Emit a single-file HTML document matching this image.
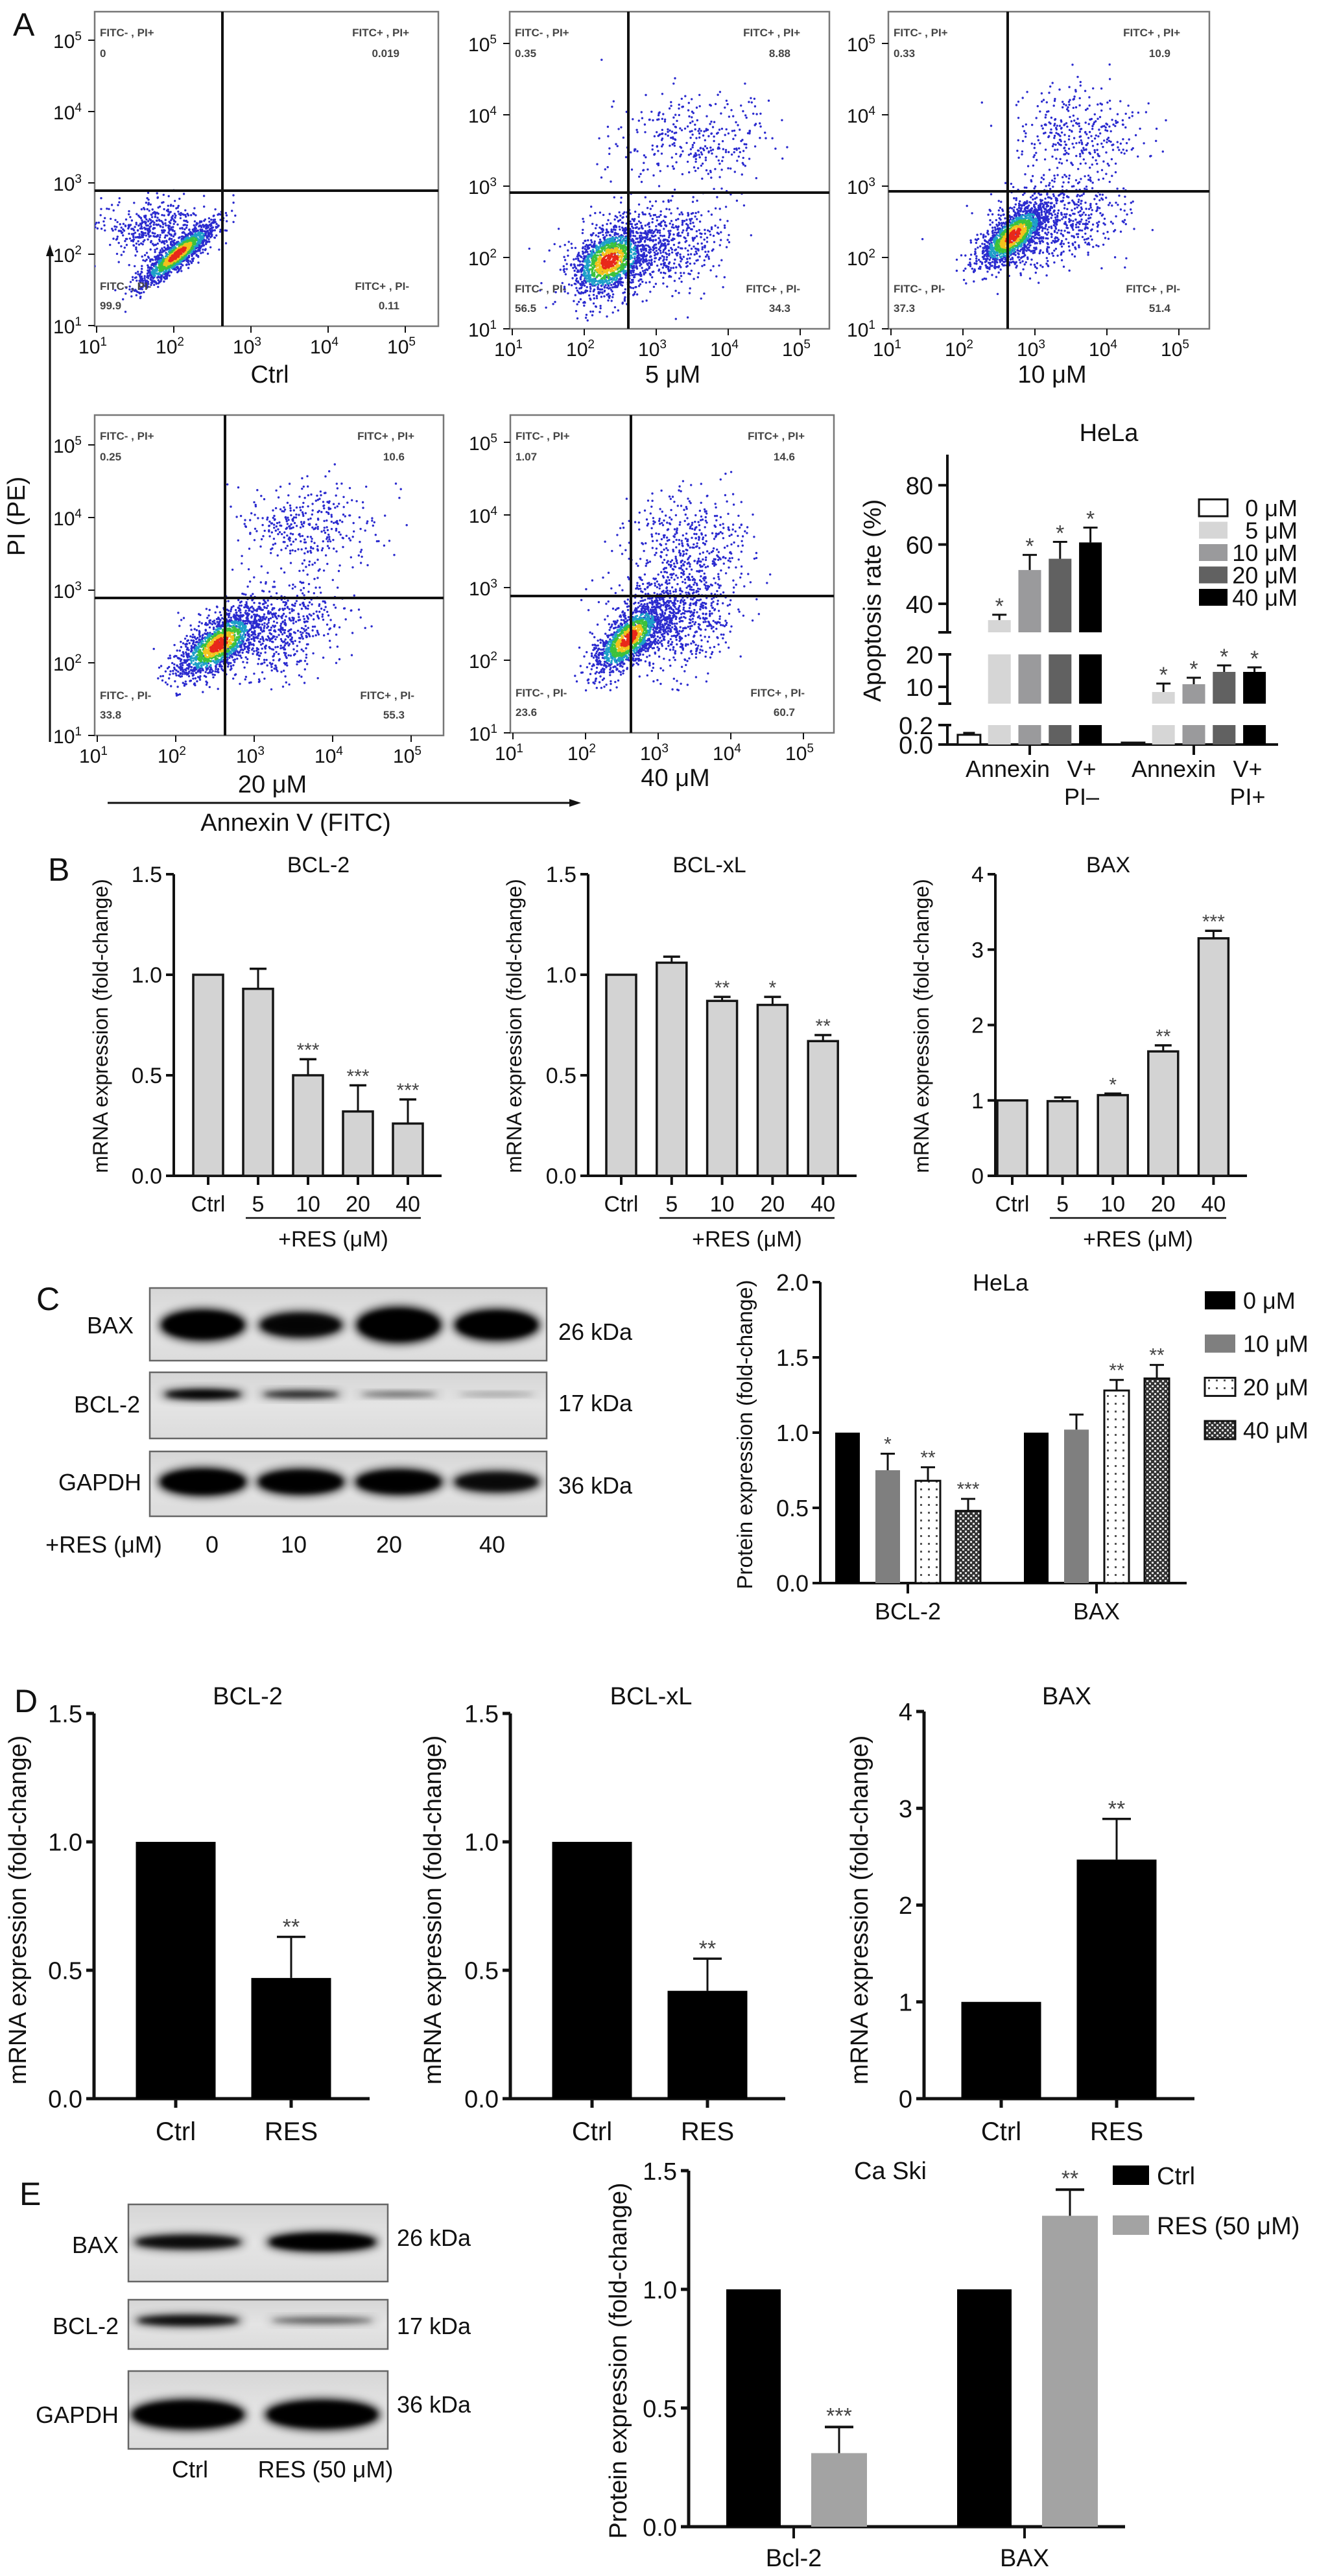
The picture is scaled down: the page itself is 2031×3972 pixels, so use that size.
<!DOCTYPE html>
<html><head><meta charset="utf-8"><title>Resveratrol apoptosis figure</title>
<style>
html,body{margin:0;padding:0;background:#fff;}
svg{display:block;font-family:"Liberation Sans",Arial,sans-serif;}
</style></head>
<body>
<svg id="fig" xmlns="http://www.w3.org/2000/svg" width="2031" height="3972" viewBox="0 0 2031 3972">
<defs>
  <pattern id="dotpat" width="12" height="12" patternUnits="userSpaceOnUse">
    <rect width="12" height="12" fill="#fff"/>
    <rect x="3" y="3" width="3" height="3" fill="#555"/>
  </pattern>
  <pattern id="checkpat" width="8" height="8" patternUnits="userSpaceOnUse">
    <rect width="8" height="8" fill="#333"/>
    <rect x="0" y="0" width="3" height="3" fill="#ddd"/>
    <rect x="4" y="4" width="3" height="3" fill="#ddd"/>
  </pattern>
  <filter id="blur8" x="-30%" y="-80%" width="160%" height="260%"><feGaussianBlur stdDeviation="7"/></filter>
  <filter id="blur4" x="-30%" y="-80%" width="160%" height="260%"><feGaussianBlur stdDeviation="4"/></filter>
  <linearGradient id="blotbg" x1="0" y1="0" x2="0" y2="1">
    <stop offset="0" stop-color="#d6d6d6"/><stop offset="0.5" stop-color="#e4e4e4"/><stop offset="1" stop-color="#dcdcdc"/>
  </linearGradient>
</defs>
</svg>
<script>
// ---------------- DATA ----------------
// Panel A flow cytometry quadrant percentages
const flowConditions = ['Ctrl', '5 μM', '10 μM', '20 μM', '40 μM'];
const flowQuadUL = ['0', '0.35', '0.33', '0.25', '1.07'];
const flowQuadUR = ['0.019', '8.88', '10.9', '10.6', '14.6'];
const flowQuadLL = ['99.9', '56.5', '37.3', '33.8', '23.6'];
const flowQuadLR = ['0.11', '34.3', '51.4', '55.3', '60.7'];
const flowTickExp = [1, 2, 3, 4, 5];
// Panel A HeLa apoptosis rate
const apoDoses = ['0 μM', '5 μM', '10 μM', '20 μM', '40 μM'];
const apoEarly = [0.1, 34.5, 51.4, 55.2, 60.7];
const apoEarlyErr = [0.02, 1.8, 5.1, 5.7, 5.0];
const apoLate = [0.02, 8.4, 10.8, 14.6, 14.6];
const apoLateErr = [0, 2.6, 2.0, 2.0, 1.4];
const apoTopTicks = [40, 60, 80];
const apoMidTicks = [10, 20];
const apoBotTicks = [0.0, 0.2];
const apoBotTickLabels = ['0.0', '0.2'];
// Panel B mRNA HeLa
const bCats = ['Ctrl', '5', '10', '20', '40'];
const bBcl2 = [1.0, 0.93, 0.50, 0.32, 0.26];
const bBcl2Err = [0, 0.10, 0.08, 0.13, 0.12];
const bBcl2Stars = ['', '', '***', '***', '***'];
const bBclxl = [1.0, 1.06, 0.87, 0.85, 0.67];
const bBclxlErr = [0, 0.03, 0.02, 0.04, 0.03];
const bBclxlStars = ['', '', '**', '*', '**'];
const bBax = [1.0, 0.99, 1.07, 1.65, 3.15];
const bBaxErr = [0, 0.05, 0.02, 0.08, 0.10];
const bBaxStars = ['', '', '*', '**', '***'];
const ticks15 = [0, 0.5, 1.0, 1.5];
const ticks15Labels = ['0.0', '0.5', '1.0', '1.5'];
const ticks4 = [0, 1, 2, 3, 4];
const ticks4Labels = ['0', '1', '2', '3', '4'];
// Panel C protein HeLa
const cGenes = ['BCL-2', 'BAX'];
const cDoses = ['0 μM', '10 μM', '20 μM', '40 μM'];
const cBcl2 = [1.0, 0.75, 0.68, 0.48];
const cBcl2Err = [0, 0.11, 0.09, 0.08];
const cBcl2Stars = ['', '*', '**', '***'];
const cBax = [1.0, 1.02, 1.28, 1.36];
const cBaxErr = [0, 0.10, 0.07, 0.09];
const cBaxStars = ['', '', '**', '**'];
const cTicks = [0, 0.5, 1.0, 1.5, 2.0];
const cTickLabels = ['0.0', '0.5', '1.0', '1.5', '2.0'];
const cLanes = ['0', '10', '20', '40'];
const cBaxBand = [1.0, 0.85, 1.15, 1.0];
const cBcl2Band = [0.95, 0.7, 0.45, 0.25];
const cGapdhBand = [1.0, 0.95, 0.95, 0.8];
// Panel D mRNA Ca Ski
const dCats = ['Ctrl', 'RES'];
const dBcl2 = [1.0, 0.47];
const dBcl2Err = [0, 0.16];
const dBclxl = [1.0, 0.42];
const dBclxlErr = [0, 0.125];
const dBax = [1.0, 2.47];
const dBaxErr = [0, 0.42];
// Panel E protein Ca Ski
const eGenes = ['Bcl-2', 'BAX'];
const eSeries = ['Ctrl', 'RES (50 μM)'];
const eCtrl = [1.0, 1.0];
const eRes = [0.31, 1.31];
const eResErr = [0.11, 0.11];
const eStars = ['***', '**'];
const eTicks = [0, 0.5, 1.0, 1.5];
const eTickLabels = ['0.0', '0.5', '1.0', '1.5'];
const eBaxBand = [0.8, 1.0];
const eBcl2Band = [0.8, 0.45];
const eGapdhBand = [1.0, 1.0];

// ---------------- HELPERS ----------------
const NS = 'http://www.w3.org/2000/svg';
const svg = document.getElementById('fig');
function mk(parent, tag, attrs, name) {
  const el = document.createElementNS(NS, tag);
  for (const k in attrs) el.setAttribute(k, attrs[k]);
  
  
  parent.appendChild(el);
  return el;
}
function grp(parent, name) { return mk(parent, 'g', {}, name); }
function txt(parent, x, y, s, size, name, extra) {
  const a = {x: x, y: y, 'font-size': size, fill: '#111'};
  if (extra) for (const k in extra) a[k] = extra[k];
  const t = mk(parent, 'text', a, name);
  t.textContent = s;
  return t;
}
function line(parent, x1, y1, x2, y2, w, name, color) {
  return mk(parent, 'line', {x1: x1, y1: y1, x2: x2, y2: y2, stroke: color || '#111', 'stroke-width': w}, name);
}
function rotLabel(parent, x, y, s, size, name) {
  return txt(parent, x, y, s, size, name, {'text-anchor': 'middle', transform: 'rotate(-90 ' + x + ' ' + y + ')'});
}
function panelLetter(x, y, s) {
  txt(svg, x, y, s, 50, 'panel-label-' + s.toLowerCase());
}

// ---------------- PANEL A: FLOW ----------------
function rng(seed) {
  return function () {
    seed |= 0; seed = seed + 0x6D2B79F5 | 0;
    let t = Math.imul(seed ^ seed >>> 15, 1 | seed);
    t = t + Math.imul(t ^ t >>> 7, 61 | t) ^ t;
    return ((t ^ t >>> 14) >>> 0) / 4294967296;
  };
}
function gauss(r) { const u = r() || 1e-9, v = r(); return Math.sqrt(-2 * Math.log(u)) * Math.cos(2 * Math.PI * v); }

function flowPlot(i, box, xt0, xdec, yt0, ydec, vx, hy, clusters, labelY) {
  const g = grp(svg, 'flow-plot-' + i);
  const X = v => xt0 + (v - 1) * xdec;
  const Y = v => yt0 - (v - 1) * ydec;
  mk(g, 'rect', {x: box[0], y: box[1], width: box[2] - box[0], height: box[3] - box[1], fill: '#fff', stroke: '#777', 'stroke-width': 2.5}, 'flow-frame');
  const cid = 'clipflow' + i;
  const cp = mk(svg.querySelector('defs'), 'clipPath', {id: cid}, 'flow-clip');
  mk(cp, 'rect', {x: box[0], y: box[1], width: box[2] - box[0], height: box[3] - box[1]}, 'flow-clip-rect');
  const dots = mk(g, 'g', {'clip-path': 'url(#' + cid + ')'}, 'flow-events');
  const r = rng(1000 + i * 77);
  const pts = [];
  clusters.forEach(c => {
    const ang = (c.ang || 0) * Math.PI / 180;
    for (let k = 0; k < c.n; k++) {
      const a = gauss(r) * c.sa, b = gauss(r) * c.sb;
      const lx = c.cx + a * Math.cos(ang) - b * Math.sin(ang);
      const ly = c.cy + a * Math.sin(ang) + b * Math.cos(ang);
      const d = Math.sqrt((a / c.sa) ** 2 + (b / c.sb) ** 2);
      pts.push({x: X(lx), y: Y(ly), d: c.dense ? d : 9});
    }
  });
  pts.sort((p, q) => q.d - p.d);
  pts.forEach(p => {
    let col = '#2b2bcf';
    if (p.d < 0.45) col = '#e8281a'; else if (p.d < 0.75) col = '#f2c21c'; else if (p.d < 1.05) col = '#3cc23c'; else if (p.d < 1.4) col = '#1ea0c8';
    mk(dots, 'circle', {cx: p.x.toFixed(1), cy: p.y.toFixed(1), r: 1.7, fill: col}, 'flow-event');
  });
  line(g, vx, box[1], vx, box[3], 4, 'quadrant-gate-vertical');
  line(g, box[0], hy, box[2], hy, 4, 'quadrant-gate-horizontal');
  // ticks
  flowTickExp.forEach(e => {
    const x = X(e), y = Y(e);
    line(g, x, box[3], x, box[3] + 10, 2, 'x-tick');
    const tx = txt(g, x - 6, box[3] + 42, '10', 30, 'x-tick-label', {'text-anchor': 'middle'});
    const sup = document.createElementNS(NS, 'tspan');
    
    
    sup.setAttribute('dy', '-12'); sup.setAttribute('font-size', '19'); sup.textContent = e;
    tx.appendChild(sup);
    line(g, box[0] - 10, y, box[0], y, 2, 'y-tick');
    const ty = txt(g, box[0] - 20, y + 12, '10', 30, 'y-tick-label', {'text-anchor': 'end'});
    const sup2 = document.createElementNS(NS, 'tspan');
    
    
    sup2.setAttribute('dy', '-12'); sup2.setAttribute('font-size', '19'); sup2.textContent = e;
    ty.appendChild(sup2);
  });
  const qs = 17, qc = '#444';
  txt(g, box[0] + 8, box[1] + 38, 'FITC- , PI+', qs, 'quadrant-ul-label', {fill: qc, 'font-weight': 'bold'});
  txt(g, box[0] + 8, box[1] + 70, flowQuadUL[i], qs, 'quadrant-ul-value', {fill: qc, 'font-weight': 'bold'});
  txt(g, box[2] - 45, box[1] + 38, 'FITC+ , PI+', qs, 'quadrant-ur-label', {fill: qc, 'font-weight': 'bold', 'text-anchor': 'end'});
  txt(g, box[2] - 60, box[1] + 70, flowQuadUR[i], qs, 'quadrant-ur-value', {fill: qc, 'font-weight': 'bold', 'text-anchor': 'end'});
  txt(g, box[0] + 8, box[3] - 56, 'FITC- , PI-', qs, 'quadrant-ll-label', {fill: qc, 'font-weight': 'bold'});
  txt(g, box[0] + 8, box[3] - 26, flowQuadLL[i], qs, 'quadrant-ll-value', {fill: qc, 'font-weight': 'bold'});
  txt(g, box[2] - 45, box[3] - 56, 'FITC+ , PI-', qs, 'quadrant-lr-label', {fill: qc, 'font-weight': 'bold', 'text-anchor': 'end'});
  txt(g, box[2] - 60, box[3] - 26, flowQuadLR[i], qs, 'quadrant-lr-value', {fill: qc, 'font-weight': 'bold', 'text-anchor': 'end'});
  txt(g, (box[0] + box[2]) / 2 + 5, labelY, flowConditions[i], 38, 'flow-condition-label', {'text-anchor': 'middle'});
}
panelLetter(20, 55, 'A');
flowPlot(0, [146, 18, 676, 503], 149, 119, 502, 110, 343, 294, [
  {cx: 2.05, cy: 2.0, sa: 0.32, sb: 0.08, ang: 42, n: 1300, dense: true},
  {cx: 1.75, cy: 2.35, sa: 0.32, sb: 0.22, ang: 0, n: 450}], 590);
flowPlot(1, [786, 18, 1279, 507], 790, 111, 507, 110, 969, 297, [
  {cx: 2.35, cy: 1.95, sa: 0.3, sb: 0.2, ang: 40, n: 1400, dense: true},
  {cx: 3.0, cy: 2.15, sa: 0.5, sb: 0.32, ang: 15, n: 700},
  {cx: 3.55, cy: 3.65, sa: 0.55, sb: 0.3, ang: 0, n: 330}], 590);
flowPlot(2, [1370, 18, 1865, 507], 1374, 111, 507, 110, 1554, 295, [
  {cx: 2.7, cy: 2.3, sa: 0.3, sb: 0.13, ang: 42, n: 1400, dense: true},
  {cx: 3.3, cy: 2.5, sa: 0.45, sb: 0.3, ang: 20, n: 600},
  {cx: 3.6, cy: 3.75, sa: 0.45, sb: 0.32, ang: 0, n: 330}], 590);
flowPlot(3, [146, 640, 684, 1134], 150, 121, 1134, 112, 347, 922, [
  {cx: 2.55, cy: 2.25, sa: 0.32, sb: 0.14, ang: 40, n: 1400, dense: true},
  {cx: 3.2, cy: 2.45, sa: 0.45, sb: 0.3, ang: 20, n: 700},
  {cx: 3.7, cy: 3.85, sa: 0.45, sb: 0.3, ang: 0, n: 350}], 1222);
flowPlot(4, [787, 640, 1286, 1130], 791, 112, 1130, 112, 973, 919, [
  {cx: 2.6, cy: 2.3, sa: 0.32, sb: 0.14, ang: 45, n: 1400, dense: true},
  {cx: 3.2, cy: 2.6, sa: 0.45, sb: 0.35, ang: 25, n: 800},
  {cx: 3.4, cy: 3.6, sa: 0.4, sb: 0.35, ang: 0, n: 400}], 1212);
// axis arrows
(function () {
  const g = grp(svg, 'flow-axis-arrows');
  line(g, 77, 1144, 77, 392, 3, 'pi-axis-arrow');
  mk(g, 'polygon', {points: '77,377 71,395 83,395', fill: '#111'}, 'pi-arrowhead');
  rotLabel(g, 38, 796, 'PI (PE)', 38, 'pi-axis-title');
  line(g, 166, 1238, 880, 1238, 3, 'annexin-axis-arrow');
  mk(g, 'polygon', {points: '896,1238 878,1232 878,1244', fill: '#111'}, 'annexin-arrowhead');
  txt(g, 456, 1281, 'Annexin V (FITC)', 38, 'annexin-axis-title', {'text-anchor': 'middle'});
})();

// HeLa apoptosis chart with broken axis
(function () {
  const g = grp(svg, 'apoptosis-chart');
  const ax = 1461, base = 1148;
  const yTop = v => 931 - (v - 40) * 4.57;
  const yMid = v => 1009 - (v - 20) * 5.0;
  const yBot = v => 1148 - v * 150;
  const segs = [[701, 975], [1009, 1085], [1118, 1148]];
  segs.forEach((s, k) => {
    line(g, ax, s[0], ax, s[1], 4, 'y-axis-segment');
    if (k > 0) line(g, ax - 14, s[0], ax + 6, s[0], 4, 'axis-break-mark');
    if (k < 2) line(g, ax - 14, s[1], ax + 6, s[1], 4, 'axis-break-mark');
  });
  apoTopTicks.forEach(v => { line(g, ax - 14, yTop(v), ax, yTop(v), 4, 'y-tick'); txt(g, ax - 22, yTop(v) + 14, String(v), 38, 'y-tick-label', {'text-anchor': 'end'}); });
  apoMidTicks.forEach(v => { line(g, ax - 14, yMid(v), ax, yMid(v), 4, 'y-tick'); txt(g, ax - 22, yMid(v) + 14, String(v), 38, 'y-tick-label', {'text-anchor': 'end'}); });
  apoBotTicks.forEach((v, k) => { line(g, ax - 14, yBot(v), ax, yBot(v), 4, 'y-tick'); txt(g, ax - 22, yBot(v) + 14, apoBotTickLabels[k], 38, 'y-tick-label', {'text-anchor': 'end'}); });
  line(g, ax, base, 1971, base, 4, 'x-axis');
  rotLabel(g, 1358, 926, 'Apoptosis rate (%)', 38, 'y-axis-title');
  txt(g, 1710, 680, 'HeLa', 38, 'chart-title', {'text-anchor': 'middle'});
  const fills = ['#fff', '#d6d6d6', '#9a9a9c', '#616161', '#000'];
  const groupTicks = [1588, 1841];
  [apoEarly, apoLate].forEach((vals, gi) => {
    const errs = gi === 0 ? apoEarlyErr : apoLateErr;
    line(g, groupTicks[gi], base, groupTicks[gi], base + 16, 4, 'x-tick');
    vals.forEach((v, i) => {
      const cx = groupTicks[gi] + (i - 2) * 46.8, w = 35;
      const st = i === 0 ? {stroke: '#111', 'stroke-width': 3} : {};
      const pieces = [];
      pieces.push([yBot(Math.min(v, 0.2)), base]);
      if (v > 5) pieces.push([yMid(Math.min(v, 20)), 1085]);
      if (v > 30.5) pieces.push([yTop(v), 975]);
      pieces.forEach(p => {
        const a = Object.assign({x: cx - w / 2, y: p[0], width: w, height: Math.max(p[1] - p[0], 1.5), fill: fills[i]}, st);
        mk(g, 'rect', a, 'bar-' + (gi === 0 ? 'early' : 'late') + '-' + i);
      });
      if (i > 0) {
        const top = v > 30.5 ? yTop(v) : yMid(v);
        const et = v > 30.5 ? yTop(v + errs[i]) : yMid(v + errs[i]);
        line(g, cx, top, cx, et, 3, 'error-bar');
        line(g, cx - 11, et, cx + 11, et, 3, 'error-cap');
        txt(g, cx, et - 2, '*', 34, 'significance-star', {'text-anchor': 'middle', fill: '#444'});
      } else if (gi === 0) {
        const et = yBot(v + errs[i]);
        line(g, cx, yBot(v), cx, et, 3, 'error-bar');
        line(g, cx - 9, et, cx + 9, et, 3, 'error-cap');
      }
    });
  });
  txt(g, 1554, 1198, 'Annexin', 36, 'x-label', {'text-anchor': 'middle'});
  txt(g, 1668, 1198, 'V+', 36, 'x-label', {'text-anchor': 'middle'});
  txt(g, 1668, 1241, 'PI–', 36, 'x-label', {'text-anchor': 'middle'});
  txt(g, 1810, 1198, 'Annexin', 36, 'x-label', {'text-anchor': 'middle'});
  txt(g, 1924, 1198, 'V+', 36, 'x-label', {'text-anchor': 'middle'});
  txt(g, 1924, 1241, 'PI+', 36, 'x-label', {'text-anchor': 'middle'});
  const lg = grp(g, 'legend');
  apoDoses.forEach((d, i) => {
    const cy = 783 + i * 34.5;
    mk(lg, 'rect', {x: 1849, y: cy - 13, width: 44, height: 26, fill: fills[i], stroke: i === 0 ? '#111' : 'none', 'stroke-width': 3}, 'legend-swatch');
    txt(lg, 2001, cy + 13, d, 36, 'legend-entry', {'text-anchor': 'end'});
  });
})();

// ---------------- BAR CHART HELPER ----------------
function barChart(o) {
  const g = grp(svg, o.name);
  const y = v => o.y0 - v * (o.y0 - o.yMaxPx) / o.vmax;
  line(g, o.ax, o.y0 + 2, o.ax, o.yMaxPx, o.lw, 'y-axis');
  o.ticks.forEach((t, k) => {
    line(g, o.ax - 12, y(t), o.ax, y(t), o.lw, 'y-tick');
    txt(g, o.ax - 18, y(t) + o.fs * 0.36, o.tickLabels[k], o.fs, 'y-tick-label', {'text-anchor': 'end'});
  });
  line(g, o.ax - 12, o.y0, o.right, o.y0, o.lw, 'x-axis');
  o.vals.forEach((v, i) => {
    const cx = o.cx(i);
    line(g, cx, o.y0, cx, o.y0 + 14, o.lw, 'x-tick');
    if (o.cats) txt(g, cx, o.catY, o.cats[i], o.cfs, 'x-tick-label', {'text-anchor': 'middle'});
    mk(g, 'rect', {x: cx - o.bw / 2, y: y(v), width: o.bw, height: o.y0 - y(v), fill: o.fill, stroke: o.stroke || 'none', 'stroke-width': 3.5}, 'bar-' + i);
    if (o.errs[i] > 0) {
      const et = y(v + o.errs[i]);
      line(g, cx, y(v), cx, et, 3, 'error-bar');
      line(g, cx - o.cap, et, cx + o.cap, et, 3.5, 'error-cap');
    }
    if (o.stars && o.stars[i]) txt(g, cx, y(v + o.errs[i]) - 4, o.stars[i], o.sfs || 30, 'significance-stars', {'text-anchor': 'middle', fill: '#444'});
  });
  txt(g, o.titleX, o.titleY, o.title, o.tfs, 'chart-title', {'text-anchor': 'middle'});
  rotLabel(g, o.ylx, o.yly, o.ylabel, o.yfs, 'y-axis-title');
  if (o.under) {
    line(g, o.under[0], o.under[2], o.under[1], o.under[2], 2.5, 'res-group-line');
    txt(g, (o.under[0] + o.under[1]) / 2, o.under[2] + 44, '+RES (μM)', 34, 'res-group-label', {'text-anchor': 'middle'});
  }
  return g;
}

// ---------------- PANEL B ----------------
panelLetter(74, 1358, 'B');
const bCommon = {y0: 1813, yMaxPx: 1348, lw: 4, fs: 34, cfs: 34, catY: 1868, bw: 46, cap: 13, fill: '#d3d3d3', stroke: '#151515', tfs: 34, titleY: 1345, yfs: 32, ylabel: 'mRNA expression (fold-change)', cats: bCats, sfs: 30};
barChart(Object.assign({}, bCommon, {name: 'chart-b-bcl2', ax: 268, right: 681, vmax: 1.5, ticks: ticks15, tickLabels: ticks15Labels,
  vals: bBcl2, errs: bBcl2Err, stars: bBcl2Stars, cx: i => 321 + i * 77, title: 'BCL-2', titleX: 491, ylx: 166, yly: 1582, under: [379, 649, 1878]}));
barChart(Object.assign({}, bCommon, {name: 'chart-b-bclxl', ax: 907, right: 1321, vmax: 1.5, ticks: ticks15, tickLabels: ticks15Labels,
  vals: bBclxl, errs: bBclxlErr, stars: bBclxlStars, cx: i => 958 + i * 77.8, title: 'BCL-xL', titleX: 1094, ylx: 804, yly: 1582, under: [1017, 1287, 1878]}));
barChart(Object.assign({}, bCommon, {name: 'chart-b-bax', ax: 1535, right: 1923, vmax: 4, ticks: ticks4, tickLabels: ticks4Labels,
  vals: bBax, errs: bBaxErr, stars: bBaxStars, cx: i => 1561 + i * 77.6, title: 'BAX', titleX: 1709, ylx: 1432, yly: 1582, under: [1619, 1891, 1878]}));

// ---------------- BLOTS ----------------
function blot(parent, name, x0, x1, y0, y1, lanesX, bandY, bandW, bandH, intens, gname) {
  const g = grp(parent, name);
  mk(g, 'rect', {x: x0, y: y0, width: x1 - x0, height: y1 - y0, fill: 'url(#blotbg)', stroke: '#666', 'stroke-width': 2.5}, 'blot-frame');
  const cid = 'clip' + name;
  const cp = mk(svg.querySelector('defs'), 'clipPath', {id: cid}, 'blot-clip');
  mk(cp, 'rect', {x: x0, y: y0, width: x1 - x0, height: y1 - y0}, 'blot-clip-rect');
  const bg = mk(g, 'g', {'clip-path': 'url(#' + cid + ')'}, 'blot-bands');
  intens.forEach((v, i) => {
    mk(bg, 'ellipse', {cx: lanesX[i], cy: bandY, rx: bandW / 2, ry: bandH / 2 * Math.max(v, 0.35), fill: '#000', opacity: Math.min(1, v), filter: 'url(#blur8)'}, gname + '-band-' + i);
    mk(bg, 'ellipse', {cx: lanesX[i], cy: bandY, rx: bandW / 2 - 8, ry: bandH / 2.6 * Math.max(v, 0.35), fill: '#000', opacity: Math.min(1, v), filter: 'url(#blur4)'}, gname + '-band-core-' + i);
  });
}
panelLetter(56, 2020, 'C');
(function () {
  const g = grp(svg, 'blot-c');
  const lanes = cLanes.map((_, i) => 313 + i * 151);
  blot(g, 'blotCbax', 231, 843, 1986, 2098, lanes, 2043, 135, 50, cBaxBand, 'bax');
  blot(g, 'blotCbcl2', 231, 843, 2116, 2218, lanes, 2150, 130, 16, cBcl2Band, 'bcl2');
  blot(g, 'blotCgapdh', 231, 843, 2238, 2338, lanes, 2285, 140, 44, cGapdhBand, 'gapdh');
  txt(g, 206, 2056, 'BAX', 36, 'blot-label-bax', {'text-anchor': 'end'});
  txt(g, 216, 2178, 'BCL-2', 36, 'blot-label-bcl2', {'text-anchor': 'end'});
  txt(g, 218, 2298, 'GAPDH', 36, 'blot-label-gapdh', {'text-anchor': 'end'});
  txt(g, 861, 2066, '26 kDa', 36, 'kda-label');
  txt(g, 861, 2176, '17 kDa', 36, 'kda-label');
  txt(g, 861, 2303, '36 kDa', 36, 'kda-label');
  txt(g, 160, 2394, '+RES (μM)', 36, 'res-row-label', {'text-anchor': 'middle'});
  cLanes.forEach((l, i) => txt(g, [327, 453, 600, 759][i], 2394, l, 36, 'lane-label', {'text-anchor': 'middle'}));
})();

// C protein chart
(function () {
  const g = grp(svg, 'chart-c-protein');
  const ax = 1265, y0 = 2441;
  const y = v => y0 - v * 232;
  line(g, ax, y0 + 2, ax, y(2), 4, 'y-axis');
  cTicks.forEach((t, k) => { line(g, ax - 12, y(t), ax, y(t), 4, 'y-tick'); txt(g, ax - 18, y(t) + 13, cTickLabels[k], 36, 'y-tick-label', {'text-anchor': 'end'}); });
  line(g, ax - 12, y0, 1830, y0, 4, 'x-axis');
  const fills = ['#000', '#7f7f7f', 'url(#dotpat)', 'url(#checkpat)'];
  const gticks = [1400, 1691];
  [cBcl2, cBax].forEach((vals, gi) => {
    const errs = gi ? cBaxErr : cBcl2Err, stars = gi ? cBaxStars : cBcl2Stars;
    line(g, gticks[gi], y0, gticks[gi], y0 + 16, 4, 'x-tick');
    txt(g, gticks[gi], 2497, cGenes[gi], 36, 'x-tick-label', {'text-anchor': 'middle'});
    vals.forEach((v, i) => {
      const cx = gticks[gi] + (i - 1.5) * 62;
      const st = i >= 2 ? {stroke: '#111', 'stroke-width': 3} : {};
      mk(g, 'rect', Object.assign({x: cx - 19, y: y(v), width: 38, height: y0 - y(v), fill: fills[i]}, st), 'bar-' + cGenes[gi].toLowerCase() + '-' + i);
      if (errs[i] > 0) {
        const et = y(v + errs[i]);
        line(g, cx, y(v), cx, et, 3, 'error-bar');
        line(g, cx - 11, et, cx + 11, et, 3, 'error-cap');
      }
      if (stars[i]) txt(g, cx, y(v + errs[i]) - 5, stars[i], 30, 'significance-stars', {'text-anchor': 'middle', fill: '#444'});
    });
  });
  txt(g, 1543, 1990, 'HeLa', 36, 'chart-title', {'text-anchor': 'middle'});
  rotLabel(g, 1160, 2212, 'Protein expression (fold-change)', 33, 'y-axis-title');
  const lg = grp(g, 'legend');
  cDoses.forEach((d, i) => {
    const cy = 2005 + i * 66.7;
    mk(lg, 'rect', Object.assign({x: 1858, y: cy - 14, width: 47, height: 28, fill: fills[i]}, i >= 2 ? {stroke: '#111', 'stroke-width': 3} : {}), 'legend-swatch');
    txt(lg, 1917, cy + 13, d, 36, 'legend-entry');
  });
})();

// ---------------- PANEL D ----------------
panelLetter(22, 2640, 'D');
const dCommon = {y0: 3236, lw: 5, fs: 38, cfs: 40, catY: 3300, bw: 123, cap: 22, fill: '#000', tfs: 38, titleY: 2628, yfs: 38, ylabel: 'mRNA expression (fold-change)', cats: dCats, sfs: 34};
barChart(Object.assign({}, dCommon, {name: 'chart-d-bcl2', ax: 145, right: 570, yMaxPx: 2642, vmax: 1.5, ticks: ticks15, tickLabels: ticks15Labels,
  vals: dBcl2, errs: dBcl2Err, stars: ['', '**'], cx: i => 271 + i * 178, title: 'BCL-2', titleX: 382, ylx: 40, yly: 2945}));
barChart(Object.assign({}, dCommon, {name: 'chart-d-bclxl', ax: 787, right: 1211, yMaxPx: 2642, vmax: 1.5, ticks: ticks15, tickLabels: ticks15Labels,
  vals: dBclxl, errs: dBclxlErr, stars: ['', '**'], cx: i => 913 + i * 178, title: 'BCL-xL', titleX: 1004, ylx: 680, yly: 2945}));
barChart(Object.assign({}, dCommon, {name: 'chart-d-bax', ax: 1425, right: 1842, yMaxPx: 2639, vmax: 4, ticks: ticks4, tickLabels: ticks4Labels,
  vals: dBax, errs: dBaxErr, stars: ['', '**'], cx: i => 1544 + i * 178, title: 'BAX', titleX: 1645, ylx: 1338, yly: 2945}));

// ---------------- PANEL E ----------------
panelLetter(30, 3400, 'E');
(function () {
  const g = grp(svg, 'blot-e');
  const lanes = [290, 497];
  blot(g, 'blotEbax', 198, 598, 3399, 3518, lanes, 3457, 175, 30, eBaxBand, 'bax');
  blot(g, 'blotEbcl2', 198, 598, 3546, 3622, lanes, 3578, 170, 22, eBcl2Band, 'bcl2');
  blot(g, 'blotEgapdh', 198, 598, 3656, 3776, lanes, 3723, 180, 48, eGapdhBand, 'gapdh');
  txt(g, 183, 3474, 'BAX', 36, 'blot-label-bax', {'text-anchor': 'end'});
  txt(g, 183, 3599, 'BCL-2', 36, 'blot-label-bcl2', {'text-anchor': 'end'});
  txt(g, 183, 3736, 'GAPDH', 36, 'blot-label-gapdh', {'text-anchor': 'end'});
  txt(g, 612, 3463, '26 kDa', 36, 'kda-label');
  txt(g, 612, 3599, '17 kDa', 36, 'kda-label');
  txt(g, 612, 3720, '36 kDa', 36, 'kda-label');
  txt(g, 293, 3820, 'Ctrl', 36, 'lane-label', {'text-anchor': 'middle'});
  txt(g, 502, 3820, 'RES (50 μM)', 36, 'lane-label', {'text-anchor': 'middle'});
})();
(function () {
  const g = grp(svg, 'chart-e-protein');
  const ax = 1062, y0 = 3896;
  const y = v => y0 - v * 366;
  line(g, ax, y0 + 2, ax, y(1.5), 5, 'y-axis');
  eTicks.forEach((t, k) => { line(g, ax - 12, y(t), ax, y(t), 5, 'y-tick'); txt(g, ax - 18, y(t) + 14, eTickLabels[k], 38, 'y-tick-label', {'text-anchor': 'end'}); });
  line(g, ax - 12, y0, 1735, y0, 5, 'x-axis');
  const gt = [1224, 1580];
  eGenes.forEach((gn, gi) => {
    line(g, gt[gi], y0, gt[gi], y0 + 18, 4, 'x-tick');
    txt(g, gt[gi], 3957, gn, 38, 'x-tick-label', {'text-anchor': 'middle'});
    const c0 = gt[gi] - 62, c1 = gt[gi] + 70;
    mk(g, 'rect', {x: c0 - 42, y: y(eCtrl[gi]), width: 84, height: y0 - y(eCtrl[gi]), fill: '#000'}, 'bar-ctrl-' + gi);
    mk(g, 'rect', {x: c1 - 43, y: y(eRes[gi]), width: 86, height: y0 - y(eRes[gi]), fill: '#a3a3a3'}, 'bar-res-' + gi);
    const et = y(eRes[gi] + eResErr[gi]);
    line(g, c1, y(eRes[gi]), c1, et, 3, 'error-bar');
    line(g, c1 - 22, et, c1 + 22, et, 4, 'error-cap');
    txt(g, c1, et - 6, eStars[gi], 34, 'significance-stars', {'text-anchor': 'middle', fill: '#444'});
  });
  txt(g, 1373, 3360, 'Ca Ski', 38, 'chart-title', {'text-anchor': 'middle'});
  rotLabel(g, 966, 3640, 'Protein expression (fold-change)', 38, 'y-axis-title');
  const lg = grp(g, 'legend');
  const ef = ['#000', '#a3a3a3'];
  eSeries.forEach((s, i) => {
    const cy = [3354, 3431][i];
    mk(lg, 'rect', {x: 1716, y: cy - 15, width: 56, height: 30, fill: ef[i]}, 'legend-swatch');
    txt(lg, 1784, cy + 14, s, 38, 'legend-entry');
  });
})();
</script>
</body></html>
